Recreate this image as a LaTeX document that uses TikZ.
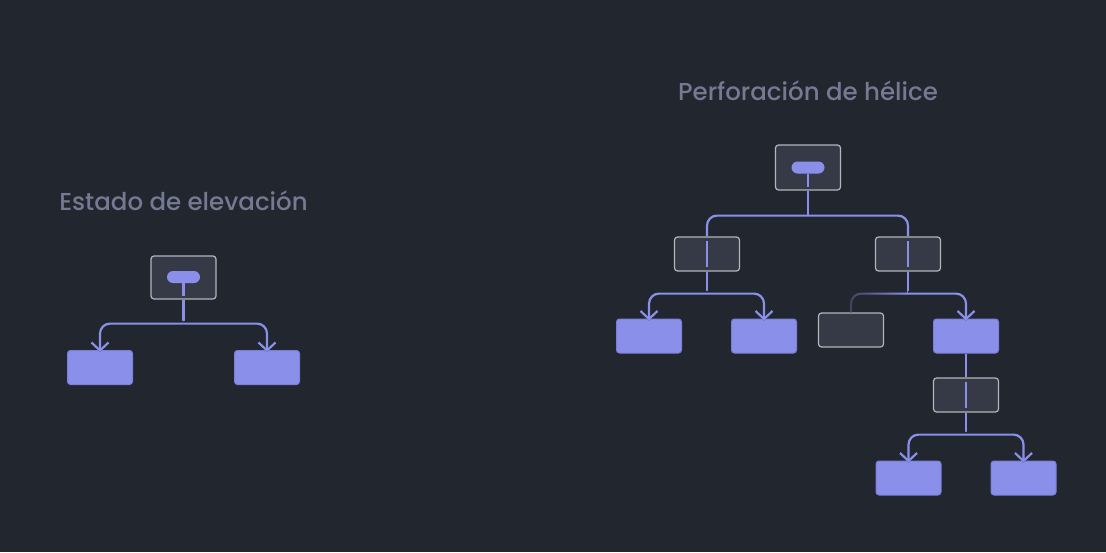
\documentclass[tikz,border=0pt]{standalone}
\usepackage{fontspec}
\setmainfont{Noto Sans}
\newfontfamily\ttlfont{Poppins Medium}
\usetikzlibrary{arrows.meta,calc,fadings}
\definecolor{bg}{HTML}{22262F}
\definecolor{pur}{HTML}{8A8FEA}
\definecolor{purd}{HTML}{7A7FD8}
\definecolor{dfill}{HTML}{363A47}
\definecolor{dline}{HTML}{B5B6BB}
\definecolor{ttl}{HTML}{737A91}
\definecolor{dim}{HTML}{40435C}
\tikzfading[name=fadeleft, left color=transparent!100, right color=transparent!0]
\tikzset{
  dbox/.style={rectangle, rounded corners=3pt, draw=dline, fill=dfill, line width=1.2pt, minimum width=65pt, minimum height=34pt, inner sep=0pt},
  pbox/.style={rectangle, rounded corners=3pt, draw=purd, fill=pur, line width=1pt, minimum width=65pt, minimum height=34pt, inner sep=0pt},
  pill/.style={rectangle, rounded corners=6pt, fill=pur, minimum width=33pt, minimum height=12pt, inner sep=0pt},
  conn/.style={draw=pur, line width=2.2pt},
  arr/.style={conn, rounded corners=10pt, -{Straight Barb[length=8pt,width=17pt,line width=2.2pt]}},
  halo/.style={draw=bg, line width=5.5pt, rounded corners=10pt, -{Straight Barb[length=8pt,width=17pt,line width=5.5pt]}},
  bar/.style={draw=pur, line width=2.2pt},
  ttlstyle/.style={text=ttl, font=\ttlfont\fontsize{24.5}{29}\selectfont, inner sep=0pt}
}
\begin{document}
\begin{tikzpicture}[x=1pt,y=-1pt]
\fill[bg] (0,0) rectangle (1106,552);
\useasboundingbox (0,0) rectangle (1106,552);

% ---------- Left tree ----------
\node[ttlstyle] (t1) at (183.5,201) {Estado de elevación};
\node[dbox, minimum height=43pt] (L0) at (183.5,277.5) {};
\node[pill] (Lp) at (183.5,277) {};
\draw[bar] (Lp.south) -- ($(L0.south)+(0,-4)$);
\node[pbox] (L1) at (100,367.5) {};
\node[pbox] (L2) at (267,367.5) {};
\coordinate (Lj) at ($(L0.south)+(0,24)$);
\draw[conn] (L0.south) -- (Lj);
\draw[halo] (Lj) -| ([yshift=-2pt]L1.north);
\draw[halo] (Lj) -| ([yshift=-2pt]L2.north);
\draw[arr] (Lj) -| ([yshift=-2pt]L1.north);
\draw[arr] (Lj) -| ([yshift=-2pt]L2.north);

% ---------- Right tree ----------
\node[ttlstyle] (t2) at (808,91) {Perforación de hélice};
\node[dbox, minimum height=45pt] (R0) at (808,167.5) {};
\node[pill] (Rp) at (808,167.5) {};
\draw[bar] (Rp.south) -- ($(R0.south)+(0,-4)$);

\node[dbox] (A) at (707,254) {};
\node[dbox] (B) at (908,254) {};
\draw[bar] ($(A.north)+(0,5)$) -- ($(A.south)+(0,-5)$);
\draw[bar] ($(B.north)+(0,5)$) -- ($(B.south)+(0,-5)$);

\coordinate (Rj) at ($(R0.south)+(0,25)$);
\draw[conn] (R0.south) -- (Rj);
\draw[conn, rounded corners=10pt] (Rj) -| (A.north);
\draw[conn, rounded corners=10pt] (Rj) -| (B.north);

% children of A
\node[pbox] (A1) at (649,336) {};
\node[pbox] (A2) at (764,336) {};
\coordinate (Aj) at ($(A.south)+(0,22)$);
\draw[conn] (A.south) -- (Aj);
\draw[halo] (Aj) -| ([yshift=-2pt]A1.north);
\draw[halo] (Aj) -| ([yshift=-2pt]A2.north);
\draw[arr] (Aj) -| ([yshift=-2pt]A1.north);
\draw[arr] (Aj) -| ([yshift=-2pt]A2.north);

% children of B
\node[dbox] (B1) at (851,330) {};
\node[pbox] (B2) at (966,336) {};
\coordinate (Bj) at ($(B.south)+(0,22)$);
\draw[conn] (B.south) -- (Bj);
\draw[draw=dim, line width=2.2pt, rounded corners=10pt] (Bj) -| (B1.north);
\draw[draw=pur, line width=2.2pt, rounded corners=10pt, path fading=fadeleft] (Bj) -| (B1.north);
\draw[halo] (Bj) -| ([yshift=-2pt]B2.north);
\draw[arr] (Bj) -| ([yshift=-2pt]B2.north);

% below B2
\node[dbox] (C) at (966,395) {};
\draw[bar] ($(C.north)+(0,5)$) -- ($(C.south)+(0,-5)$);
\draw[conn] (B2.south) -- (C.north);
\node[pbox] (C1) at (908.5,478) {};
\node[pbox] (C2) at (1023.5,478) {};
\coordinate (Cj) at ($(C.south)+(0,22)$);
\draw[conn] (C.south) -- (Cj);
\draw[halo] (Cj) -| ([yshift=-2pt]C1.north);
\draw[halo] (Cj) -| ([yshift=-2pt]C2.north);
\draw[arr] (Cj) -| ([yshift=-2pt]C1.north);
\draw[arr] (Cj) -| ([yshift=-2pt]C2.north);
\end{tikzpicture}
\end{document}
